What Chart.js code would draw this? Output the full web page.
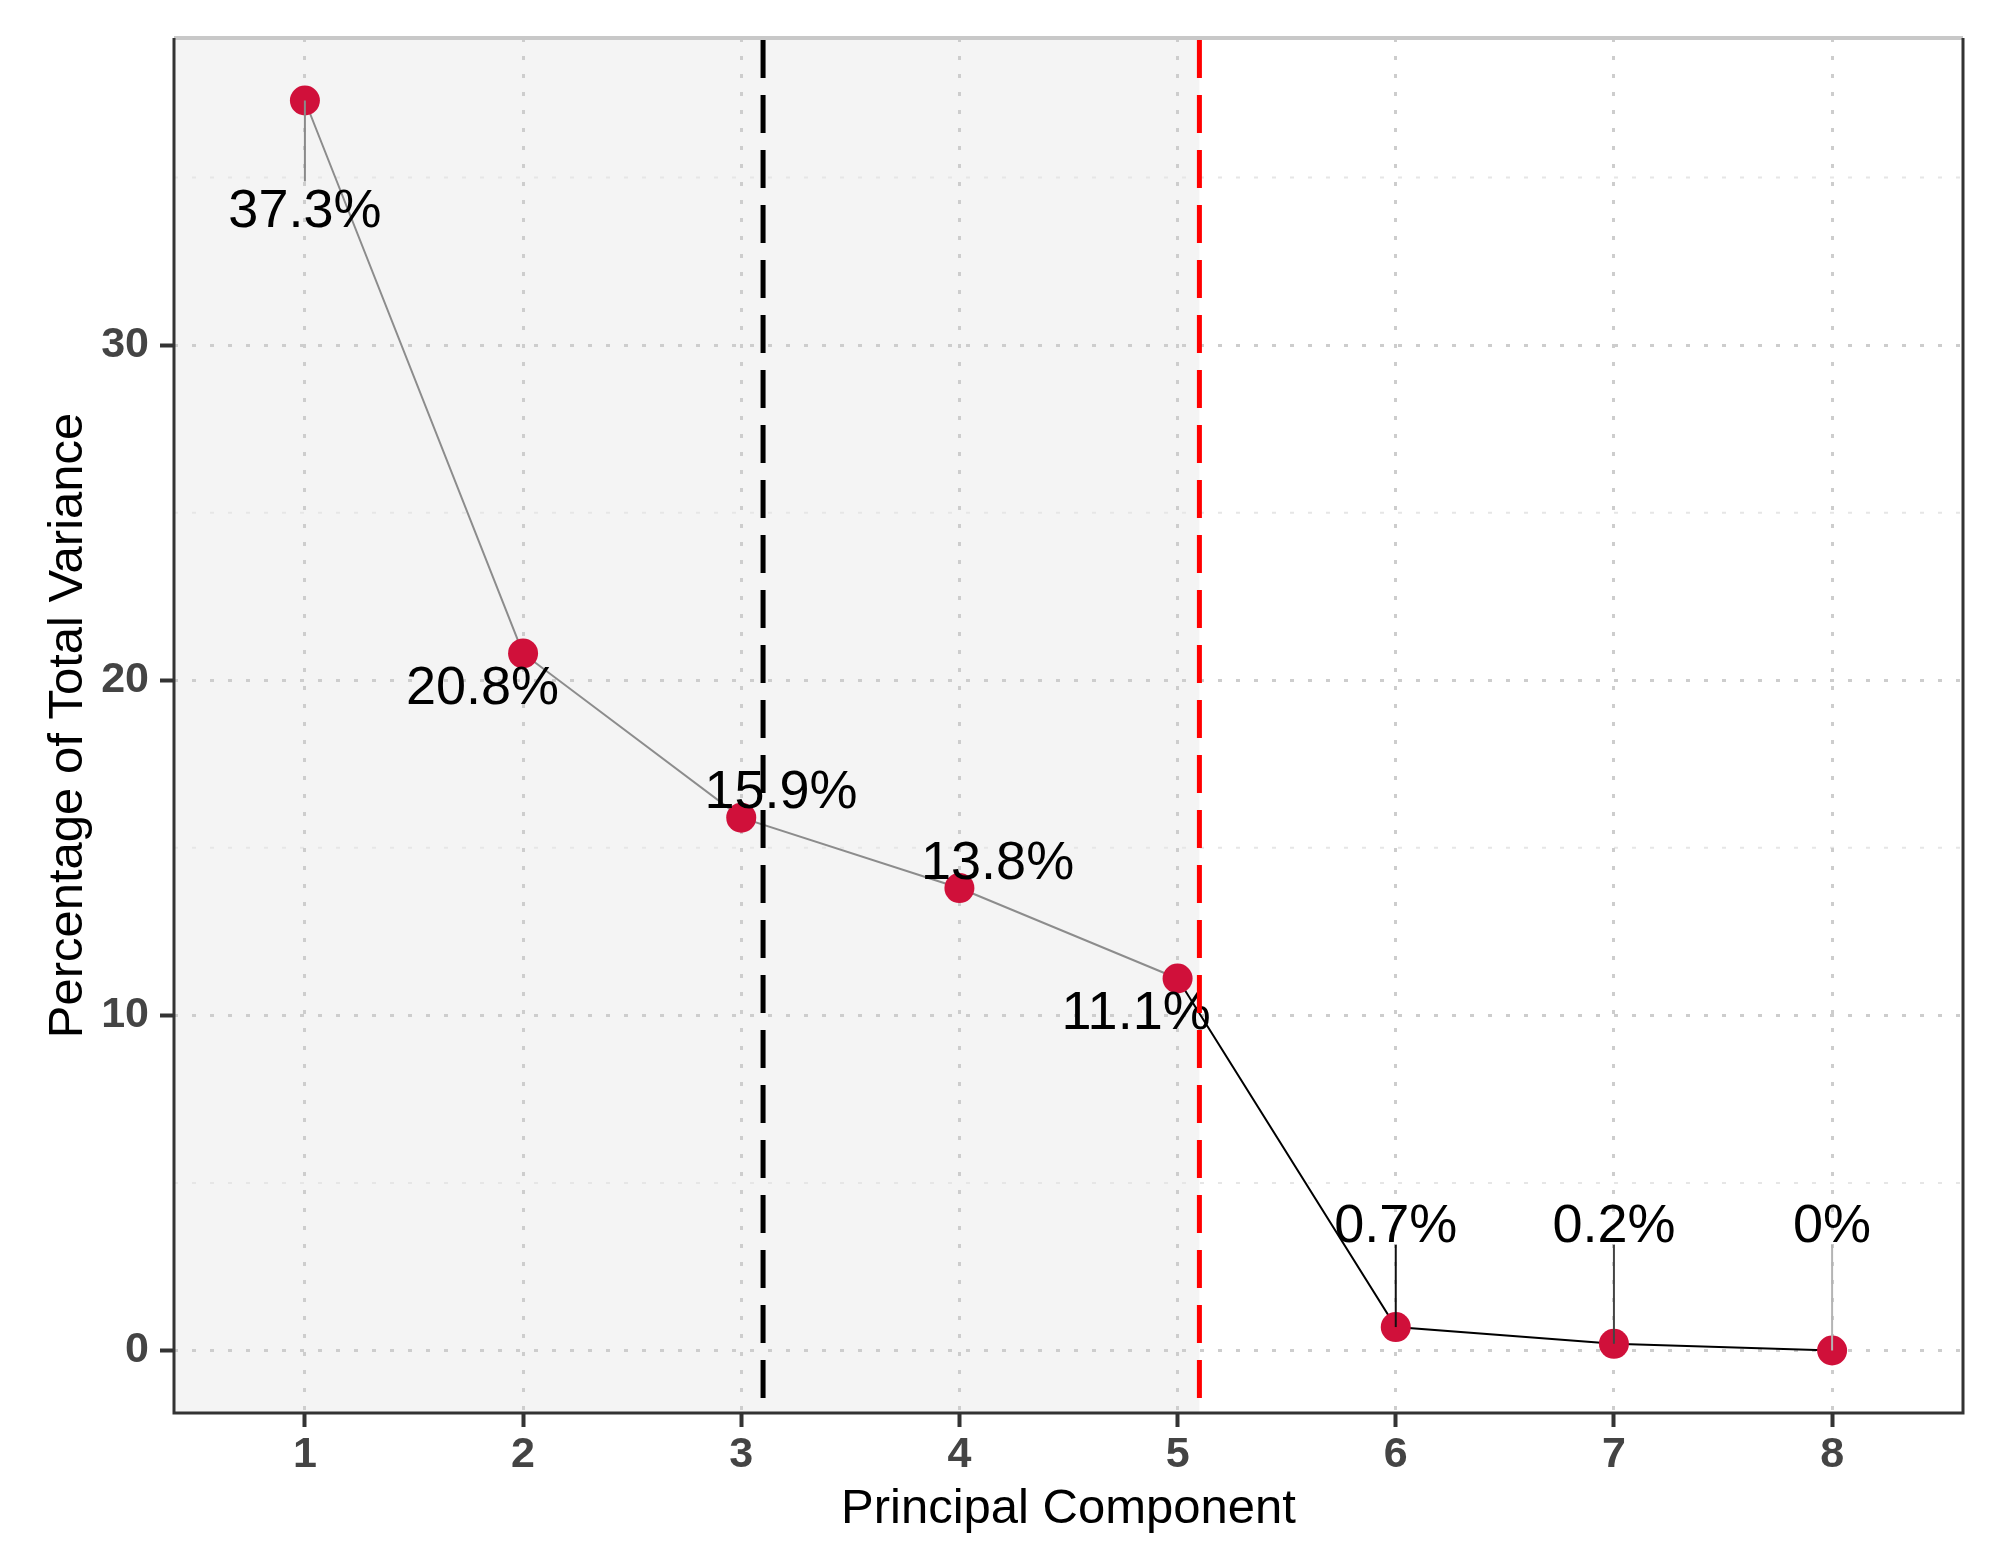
<!DOCTYPE html>
<html>
<head>
<script src="https://cdn.jsdelivr.net/npm/chart.js@4.4.1/dist/chart.umd.min.js"></script>
<style>
html, body { margin: 0; padding: 0; background: #fff; }
canvas { display: block; }
</style>
</head>
<body>
<canvas id="scree" width="1994" height="1567"></canvas>
<script>
// values
const components = [1, 2, 3, 4, 5, 6, 7, 8];
const variance = [37.3, 20.8, 15.9, 13.8, 11.1, 0.7, 0.2, 0];
const varianceLabels = ['37.3%', '20.8%', '15.9%', '13.8%', '11.1%', '0.7%', '0.2%', '0%'];
const xTicks = [1, 2, 3, 4, 5, 6, 7, 8];
const yTicks = [0, 10, 20, 30];
const yMinorTicks = [5, 15, 25, 35];
const cutoffBlack = 3.1;
const cutoffRed = 5.1;

// where the repelled labels sit (data units)
const labelX = [1, 1.814, 3.182, 4.175, 4.81, 6, 7, 8];
const labelY = [34.11, 19.87, 16.77, 14.66, 10.16, 3.81, 3.81, 3.81];
const segColors = ['#8a8a8a', null, null, null, null, '#111', '#444', '#b4b4b4'];

const FONT = '"Liberation Sans", Arial, sans-serif';

const decor = {
    id: 'decor',
    beforeDraw(chart) {
        const { ctx, chartArea: a, scales: { x, y } } = chart;
        ctx.save();
        ctx.fillStyle = '#fff';
        ctx.fillRect(0, 0, chart.width, chart.height);
        // shaded part up to the red cut-off
        ctx.fillStyle = '#f4f4f4';
        ctx.fillRect(a.left, a.top, x.getPixelForValue(cutoffRed) - a.left, a.bottom - a.top);
        // minor grid
        ctx.strokeStyle = '#e6e6e6';
        ctx.lineWidth = 2;
        ctx.setLineDash([4, 14]);
        yMinorTicks.forEach(v => {
            const py = y.getPixelForValue(v);
            ctx.beginPath();
            ctx.moveTo(a.left, py);
            ctx.lineTo(a.right, py);
            ctx.stroke();
        });
        ctx.restore();
    },
    afterDatasetsDraw(chart) {
        const { ctx, chartArea: a, scales: { x, y } } = chart;
        const fs = 54;
        ctx.save();
        ctx.font = fs + 'px ' + FONT;
        ctx.textAlign = 'center';
        ctx.textBaseline = 'alphabetic';
        varianceLabels.forEach((txt, i) => {
            const lx = x.getPixelForValue(labelX[i]);
            const ly = y.getPixelForValue(labelY[i]);
            if (segColors[i]) {
                const px = x.getPixelForValue(components[i]);
                const py = y.getPixelForValue(variance[i]);
                const edge = py > ly ? ly + 22 : ly - 26;
                ctx.strokeStyle = segColors[i];
                ctx.lineWidth = 2;
                ctx.beginPath();
                ctx.moveTo(lx, edge);
                ctx.lineTo(px, py);
                ctx.stroke();
            }
            ctx.fillStyle = '#000';
            ctx.fillText(txt, lx, ly + fs * 0.358);
        });

        // cut-off lines
        ctx.lineWidth = 5;
        ctx.setLineDash([38, 17]);
        [[cutoffBlack, '#000'], [cutoffRed, '#ff0000']].forEach(([v, c]) => {
            const px = x.getPixelForValue(v);
            ctx.strokeStyle = c;
            ctx.beginPath();
            ctx.moveTo(px, a.top + 2);
            ctx.lineTo(px, a.bottom);
            ctx.stroke();
        });
        ctx.setLineDash([]);

        // panel border
        ctx.strokeStyle = '#c8c8c8';
        ctx.lineWidth = 4;
        ctx.beginPath();
        ctx.moveTo(a.left, a.top);
        ctx.lineTo(a.right, a.top);
        ctx.stroke();
        ctx.strokeStyle = '#333';
        ctx.lineWidth = 3;
        ctx.beginPath();
        ctx.moveTo(a.left, a.top);
        ctx.lineTo(a.left, a.bottom);
        ctx.lineTo(a.right, a.bottom);
        ctx.lineTo(a.right, a.top);
        ctx.stroke();
        ctx.restore();
    },
    afterDraw(chart) {
        const { ctx, chartArea: a } = chart;
        ctx.save();
        ctx.fillStyle = '#000';
        ctx.font = '49px ' + FONT;
        ctx.textAlign = 'center';
        ctx.textBaseline = 'alphabetic';
        ctx.fillText('Principal Component', (a.left + a.right) / 2, 1523);
        ctx.translate(82, (a.top + a.bottom) / 2);
        ctx.rotate(-Math.PI / 2);
        ctx.fillText('Percentage of Total Variance', 0, 0);
        ctx.restore();
    }
};

const tickFont = { family: FONT, size: 43, weight: 'bold' };

new Chart(document.getElementById('scree'), {
    type: 'scatter',
    data: {
        datasets: [{
            data: components.map((c, i) => ({ x: c, y: variance[i] })),
            showLine: true,
            borderWidth: 2,
            borderColor: '#000',
            segment: {
                borderColor: c => c.p0DataIndex < 4 ? '#8c8c8c' : '#000'
            },
            pointRadius: 15,
            pointHoverRadius: 15,
            pointBackgroundColor: '#d0103a',
            pointBorderWidth: 0
        }]
    },
    options: {
        responsive: false,
        animation: false,
        devicePixelRatio: 1,
        events: [],
        layout: { padding: { top: 38, right: 31, left: 0, bottom: 0 } },
        plugins: { legend: { display: false }, tooltip: { enabled: false } },
        scales: {
            x: {
                type: 'linear',
                min: 0.4,
                max: 8.6,
                afterFit: s => { s.height = 154; },
                afterBuildTicks: s => { s.ticks = xTicks.map(v => ({ value: v })); },
                grid: { color: '#cdcdcd', lineWidth: 3, tickColor: '#333', tickWidth: 4, tickLength: 14, tickBorderDash: [] },
                border: { display: false, dash: [4, 14] },
                ticks: { font: tickFont, color: '#444', padding: 2, maxRotation: 0 }
            },
            y: {
                type: 'linear',
                min: -1.865,
                max: 39.165,
                afterFit: s => { s.width = 174; },
                afterBuildTicks: s => { s.ticks = yTicks.map(v => ({ value: v })); },
                grid: { color: '#cdcdcd', lineWidth: 3, tickColor: '#333', tickWidth: 4, tickLength: 14, tickBorderDash: [] },
                border: { display: false, dash: [4, 14] },
                ticks: { font: tickFont, color: '#444', padding: 11 }
            }
        }
    },
    plugins: [decor]
});
</script>
</body>
</html>
